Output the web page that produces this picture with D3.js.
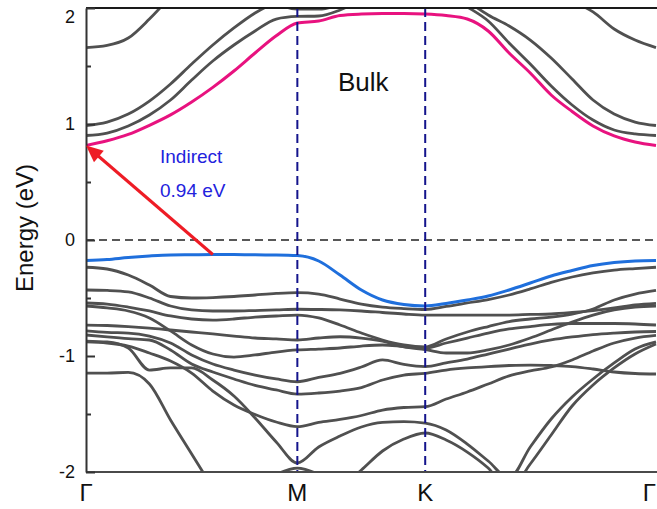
<!DOCTYPE html>
<html>
<head>
<meta charset="utf-8">
<script src="https://cdn.jsdelivr.net/npm/d3@7"></script>
<style>
  html, body { margin: 0; padding: 0; background: #fff; }
  svg { display: block; font-family: "Liberation Sans", Arial, sans-serif; }
</style>
</head>
<body>
<svg id="chart" width="657" height="509"></svg>
<script>
// k-path sampling along Γ–M–K–Γ (hexagonal zone, path length units)
const kGrid = [0, 0.1, 0.2, 0.3, 0.4, 0.5, 0.6, 0.7, 0.8, 0.9, 1.0,
               1.101, 1.202, 1.303, 1.403, 1.504, 1.605,
               1.704, 1.804, 1.903, 2.002, 2.102, 2.201, 2.300, 2.399, 2.499, 2.598, 2.697];
const kTicks = [0, 1, 1.605, 2.697];
const kLabels = ["Γ", "M", "K", "Γ"];
const energyTicks = [-2, -1, 0, 1, 2];
const energyMinorTicks = [-1.5, -0.5, 0.5, 1.5];

// lowest conduction band (eV)
const cbLowest = [0.815, 0.855, 0.910, 0.989, 1.079, 1.190, 1.316, 1.457, 1.612, 1.760, 1.871,
                  1.888, 1.935, 1.948, 1.952, 1.952, 1.948,
                  1.935, 1.905, 1.802, 1.612, 1.440, 1.250, 1.108, 0.983, 0.897, 0.845, 0.815];
// highest valence band (eV)
const vbHighest = [-0.177, -0.168, -0.151, -0.138, -0.129, -0.127, -0.125, -0.126, -0.128, -0.129, -0.134,
                   -0.181, -0.302, -0.431, -0.517, -0.556, -0.569,
                   -0.547, -0.517, -0.483, -0.431, -0.371, -0.310, -0.263, -0.220, -0.194, -0.181, -0.177];

// remaining conduction bands (null = outside the energy window)
const cb2 = [0.901, 0.922, 0.983, 1.078, 1.207, 1.379, 1.543, 1.681, 1.802, 1.905, 1.927,
             1.931, 1.983, 2.069, null, null, null,
             2.12, 2.01, 1.888, 1.698, 1.517, 1.328, 1.164, 1.034, 0.948, 0.914, 0.901];
const cb3 = [0.987, 1.017, 1.086, 1.198, 1.345, 1.517, 1.681, 1.828, 1.957, 2.052, null,
             null, null, null, null, null, null,
             null, 2.06, 1.940, 1.845, 1.724, 1.569, 1.388, 1.207, 1.086, 1.017, 0.987];
const cb4 = [1.659, 1.677, 1.741, 1.905, 2.1, null, null, null, null, null, null,
             null, null, null, null, null, null,
             null, null, null, null, null, null, 2.06, 1.966, 1.819, 1.724, 1.659];
const cb5 = [null, null, null, null, null, null, null, null, 2.15, 2.04, 1.99,
             1.99, 2.03, 2.12, null, null, null,
             null, null, null, null, null, null, null, null, null, null, null];

// remaining valence bands
const vb2 = [-0.235, -0.250, -0.302, -0.388, -0.487, -0.500, -0.496, -0.487, -0.474, -0.461, -0.454,
             -0.466, -0.509, -0.552, -0.578, -0.591, -0.599,
             -0.573, -0.543, -0.513, -0.474, -0.422, -0.366, -0.319, -0.284, -0.259, -0.246, -0.235];
const vb3 = [-0.431, -0.435, -0.448, -0.500, -0.569, -0.603, -0.612, -0.612, -0.608, -0.603, -0.597,
             -0.599, -0.603, -0.612, -0.625, -0.638, -0.647,
             -0.647, -0.647, -0.647, -0.647, -0.642, -0.638, -0.625, -0.608, -0.586, -0.560, -0.546];
const vb4 = [-0.543, -0.552, -0.578, -0.612, -0.655, -0.681, -0.690, -0.681, -0.664, -0.655, -0.647,
             -0.672, -0.733, -0.802, -0.862, -0.905, -0.922,
             -0.853, -0.793, -0.746, -0.703, -0.681, -0.664, -0.638, -0.595, -0.517, -0.466, -0.435];
const vb5 = [-0.569, -0.586, -0.612, -0.672, -0.784, -0.905, -0.983, -1.009, -0.991, -0.966, -0.948,
             -0.940, -0.931, -0.914, -0.905, -0.918, -0.931,
             -0.888, -0.845, -0.802, -0.767, -0.746, -0.728, -0.720, -0.720, -0.720, -0.724, -0.733];
const vb6 = [-0.733, -0.737, -0.746, -0.759, -0.776, -0.793, -0.810, -0.828, -0.845, -0.853, -0.862,
             -0.845, -0.834, -0.845, -0.871, -0.922, -0.944,
             -0.974, -0.974, -0.948, -0.905, -0.845, -0.776, -0.707, -0.647, -0.603, -0.578, -0.569];
const vb7 = [-0.784, -0.797, -0.802, -0.828, -0.888, -0.991, -1.069, -1.121, -1.164, -1.198, -1.222,
             -1.185, -1.149, -1.095, -1.034, -1.073, -1.092,
             -1.060, -1.026, -0.983, -0.940, -0.897, -0.862, -0.836, -0.815, -0.802, -0.793, -0.789];
const vb8 = [-0.819, -0.836, -0.851, -0.862, -0.948, -1.069, -1.138, -1.198, -1.254, -1.293, -1.328,
             -1.319, -1.302, -1.272, -1.207, -1.164, -1.149,
             -1.121, -1.103, -1.091, -1.082, -1.078, -1.082, -1.091, -1.112, -1.138, -1.151, -1.155];
const vb9 = [-0.879, -0.888, -0.914, -0.974, -1.043, -1.147, -1.302, -1.422, -1.504, -1.569, -1.609,
             -1.573, -1.547, -1.513, -1.466, -1.444, -1.437,
             -1.371, -1.310, -1.241, -1.172, -1.129, -1.095, -1.034, -0.957, -0.888, -0.845, -0.823];
const vb10 = [-0.871, -0.879, -0.931, -1.121, -1.103, -1.103, -1.207, -1.345, -1.534, -1.741, -1.922,
              -1.784, -1.690, -1.612, -1.573, -1.565, -1.578,
              -1.638, -1.759, -1.905, -2.052, -1.784, -1.543, -1.353, -1.198, -1.060, -0.940, -0.879];
const vb11 = [-1.147, -1.147, -1.142, -1.241, -1.552, -1.845, -2.138, null, null, null, null,
              null, -2.138, -1.983, -1.819, -1.716, -1.664,
              -1.724, -1.828, -1.966, -2.155, -1.931, -1.681, -1.431, -1.250, -1.103, -0.983, -0.897];
const vb12 = [null, null, null, null, null, null, null, null, null, -2.02, -1.966,
              -2.02, null, null, null, null, null,
              null, null, null, null, null, null, null, null, null, null, null];

const greyBands = [cb2, cb3, cb4, cb5, vb2, vb3, vb4, vb5, vb6, vb7, vb8, vb9, vb10, vb11, vb12];

const svg = d3.select("#chart");
const plot = { left: 86, right: 657, top: 8, bottom: 472 };

const x = d3.scaleLinear().domain([0, kTicks[kTicks.length - 1]]).range([86, 656]);
const y = d3.scaleLinear().domain([-2, 2]).range([plot.bottom, plot.top]);

svg.append("defs").append("clipPath").attr("id", "plot-clip")
  .append("rect")
  .attr("x", plot.left).attr("y", plot.top)
  .attr("width", plot.right - plot.left + 10).attr("height", plot.bottom - plot.top);

const line = d3.line()
  .defined(d => d[1] != null)
  .x(d => x(d[0]))
  .y(d => y(d[1]))
  .curve(d3.curveMonotoneX);

const pairs = arr => kGrid.map((k, i) => [k, arr[i]]);

const bands = svg.append("g").attr("clip-path", "url(#plot-clip)");

// grey bands
bands.selectAll("path.grey")
  .data(greyBands)
  .join("path")
  .attr("class", "grey")
  .attr("d", d => line(pairs(d)))
  .attr("fill", "none")
  .attr("stroke", "#505050")
  .attr("stroke-width", 2.8);

// band edges
bands.append("path")
  .attr("d", line(pairs(cbLowest)))
  .attr("fill", "none").attr("stroke", "#e8127f").attr("stroke-width", 3);
bands.append("path")
  .attr("d", line(pairs(vbHighest)))
  .attr("fill", "none").attr("stroke", "#1f6fdc").attr("stroke-width", 3);

// Fermi level
svg.append("line")
  .attr("x1", plot.left).attr("x2", plot.right)
  .attr("y1", y(0)).attr("y2", y(0))
  .attr("stroke", "#222").attr("stroke-width", 1.6)
  .attr("stroke-dasharray", "8,5");

// high-symmetry points M and K
svg.selectAll("line.sym")
  .data(kTicks.slice(1, 3))
  .join("line")
  .attr("class", "sym")
  .attr("x1", d => x(d)).attr("x2", d => x(d))
  .attr("y1", plot.top).attr("y2", plot.bottom)
  .attr("stroke", "#14148c").attr("stroke-width", 2)
  .attr("stroke-dasharray", "9,5");

// frame
svg.append("line")
  .attr("x1", plot.left).attr("x2", plot.right)
  .attr("y1", plot.top).attr("y2", plot.top)
  .attr("stroke", "#1a1a1a").attr("stroke-width", 2);
svg.append("line")
  .attr("x1", plot.left).attr("x2", plot.right)
  .attr("y1", plot.bottom).attr("y2", plot.bottom)
  .attr("stroke", "#4a4a4a").attr("stroke-width", 2);

// energy axis
const yAxis = svg.append("g")
  .attr("transform", `translate(${plot.left},0)`)
  .call(d3.axisLeft(y)
    .tickValues(energyTicks)
    .tickSizeInner(-9)
    .tickSizeOuter(0)
    .tickPadding(11)
    .tickFormat(d => String(d)));
yAxis.select(".domain").attr("stroke", "#333").attr("stroke-width", 2);
yAxis.selectAll(".tick line").attr("stroke", "#333").attr("stroke-width", 2);
yAxis.selectAll(".tick text")
  .attr("font-size", 18)
  .attr("font-family", "Liberation Sans, Arial, sans-serif")
  .attr("fill", "#111")
  .attr("dy", d => d === energyTicks[energyTicks.length - 1] ? "0.82em" : "0.32em");

const yMinor = svg.append("g")
  .attr("transform", `translate(${plot.left},0)`)
  .call(d3.axisLeft(y).tickValues(energyMinorTicks).tickSizeInner(-5).tickSizeOuter(0).tickFormat(""));
yMinor.select(".domain").remove();
yMinor.selectAll(".tick line").attr("stroke", "#333").attr("stroke-width", 2);

svg.append("text")
  .attr("transform", `translate(33,228) rotate(-90)`)
  .attr("text-anchor", "middle")
  .attr("font-size", 24)
  .attr("fill", "#111")
  .text("Energy (eV)");

// k-point labels (the last one kept inside the right edge)
const lastK = kTicks.length - 1;
svg.selectAll("text.klabel")
  .data(kTicks)
  .join("text")
  .attr("class", "klabel")
  .attr("x", (d, i) => i === lastK ? Math.min(x(d), 656) : x(d))
  .attr("y", 501)
  .attr("text-anchor", (d, i) => i === lastK ? "end" : "middle")
  .attr("font-size", 24)
  .attr("fill", "#111")
  .text((d, i) => kLabels[i]);

// band gap arrow: valence band maximum -> conduction band minimum
const vbmIndex = d3.maxIndex(vbHighest);
const cbmIndex = d3.minIndex(cbLowest);
const vbm = vbHighest[vbmIndex];
const cbm = cbLowest[cbmIndex];
const gap = cbm - vbm;

const tail = [x(kGrid[vbmIndex]), y(vbm)];
const head = [x(kGrid[cbmIndex]), y(cbm)];
const dx = head[0] - tail[0], dy = head[1] - tail[1];
const len = Math.hypot(dx, dy);
const ux = dx / len, uy = dy / len;
const headLen = 17, headHalf = 7.5;
const base = [head[0] - ux * headLen, head[1] - uy * headLen];

svg.append("line")
  .attr("x1", tail[0]).attr("y1", tail[1])
  .attr("x2", base[0] + ux * 2).attr("y2", base[1] + uy * 2)
  .attr("stroke", "#ee1c25").attr("stroke-width", 3);
svg.append("path")
  .attr("d", `M${head[0]},${head[1]}
              L${base[0] - uy * headHalf},${base[1] + ux * headHalf}
              L${base[0] + uy * headHalf},${base[1] - ux * headHalf}Z`)
  .attr("fill", "#ee1c25");

svg.append("text")
  .attr("x", 160).attr("y", 163)
  .attr("font-size", 19)
  .attr("fill", "#2222dd")
  .text("Indirect");
svg.append("text")
  .attr("x", 160).attr("y", 196.5)
  .attr("font-size", 19)
  .attr("fill", "#2222dd")
  .text(`${gap.toFixed(2)} eV`);

svg.append("text")
  .attr("x", 338).attr("y", 91)
  .attr("font-size", 26)
  .attr("fill", "#111")
  .text("Bulk");
</script>
</body>
</html>
